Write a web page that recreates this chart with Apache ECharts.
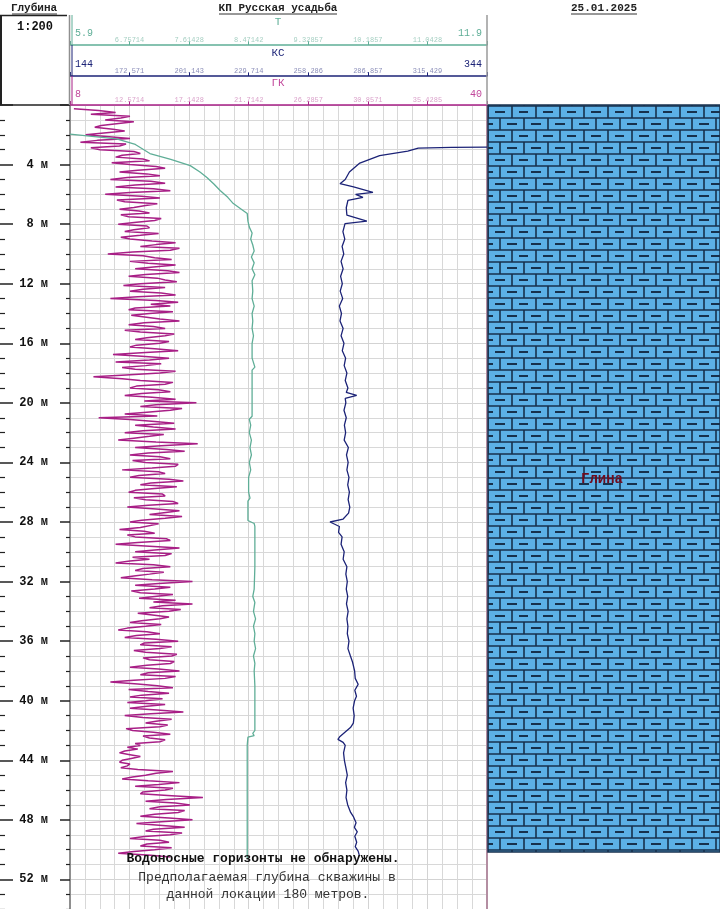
<!DOCTYPE html>
<html lang="ru">
<head>
    <meta charset="UTF-8">
    <title>КП Русская усадьба</title>
    <script src="https://cdn.jsdelivr.net/npm/echarts@6.0.0/dist/echarts.min.js"></script>
    <style>
        html, body { margin: 0; background: #fff; overflow: hidden; }
        #chart { width: 720px; height: 945px; }
    </style>
</head>
<body>
<div id="chart"></div>
<script>
    // шапка
    var titleWell = 'КП Русская усадьба';
    var titleDate = '25.01.2025';
    var titleDepth = 'Глубина';
    var titleScale = '1:200';

    // шкалы треков (мин, макс) и подписи промежуточных делений
    var tName = 'T', ksName = 'КС', gkName = 'ГК';
    var tScale = [5.9, 11.9];
    var ksScale = [144, 344];
    var gkScale = [8, 40];
    var tTickLabels = ['6.75714', '7.61428', '8.47142', '9.32857', '10.1857', '11.0428'];
    var ksTickLabels = ['172.571', '201.143', '229.714', '258.286', '286.857', '315.429'];
    var gkTickLabels = ['12.5714', '17.1428', '21.7142', '26.2857', '30.8571', '35.4285'];
    var depthRange = [0, 56];

    // T: глубина, значение
    var tDepth = [1.95, 2.28, 2.65, 3.26, 3.65, 4.07, 4.5, 4.87, 5.3, 5.74, 6.2, 6.62, 7.08, 7.28, 7.8, 8.2,
        8.6, 9.0, 9.4, 9.8, 10.2, 10.6, 11.0, 11.4, 11.8, 12.5, 13.0, 13.5, 14.0, 14.5, 15.0, 15.5, 16.0,
        17.0, 17.6, 17.8, 19.0, 20.0, 20.9, 21.1, 21.5, 22.0, 22.5, 23.0, 23.5, 24.0, 24.5, 25.0, 26.0,
        26.4, 26.6, 27.5, 27.9, 28.1, 28.3, 30.0, 31.0, 32.5, 33.0, 33.4, 34.0, 34.5, 35.0, 35.5, 36.0,
        36.5, 37.0, 37.5, 38.0, 39.0, 40.0, 41.0, 42.0, 42.2, 42.35, 42.45, 43.0, 45.0, 47.0, 48.8, 48.9,
        49.0, 50.6];
    var tValues = [5.90, 6.57, 6.84, 7.05, 7.35, 7.63, 7.77, 7.87, 7.97, 8.06, 8.17, 8.25, 8.39, 8.45, 8.46, 8.48,
        8.52, 8.50, 8.53, 8.55, 8.51, 8.55, 8.52, 8.56, 8.52, 8.53, 8.52, 8.55, 8.52, 8.53, 8.52, 8.54, 8.52,
        8.52, 8.56, 8.52, 8.52, 8.52, 8.52, 8.48, 8.50, 8.48, 8.51, 8.49, 8.51, 8.48, 8.50, 8.47, 8.47,
        8.49, 8.46, 8.46, 8.46, 8.55, 8.56, 8.56, 8.56, 8.55, 8.53, 8.56, 8.54, 8.57, 8.54, 8.56, 8.55,
        8.57, 8.54, 8.56, 8.55, 8.56, 8.56, 8.56, 8.56, 8.53, 8.55, 8.46, 8.45, 8.45, 8.45, 8.45, 8.43,
        8.45, 8.45];

    // КС: глубина, значение
    var ksDepth = [2.83, 2.85, 2.9, 3.1, 3.4, 3.9, 4.5, 5.0, 5.28, 5.5, 5.86, 6.0, 6.2, 6.4, 6.9, 7.4, 7.8, 7.96,
        8.5, 9.0, 9.5, 10.0, 10.5, 11.0, 11.5, 12.0, 12.5, 13.0, 13.5, 14.0, 14.5, 15.0, 15.5, 16.0, 16.5,
        17.0, 17.5, 18.0, 18.5, 19.0, 19.3, 19.5, 19.7, 20.0, 20.5, 21.0, 21.5, 22.0, 22.5, 23.0, 23.5,
        24.0, 24.5, 25.0, 25.5, 26.0, 26.5, 27.0, 27.4, 27.8, 28.0, 28.15, 28.3, 28.7, 29.0, 29.5, 30.0,
        30.5, 31.0, 31.5, 32.0, 32.5, 33.0, 33.5, 34.0, 34.5, 35.0, 35.5, 36.0, 36.5, 37.0, 37.4, 38.0,
        38.5, 38.9, 39.3, 39.7, 40.0, 40.5, 41.0, 41.5, 41.8, 42.1, 42.4, 42.6, 42.8, 43.0, 43.5, 44.0,
        44.5, 45.0, 45.5, 46.0, 46.5, 47.0, 47.5, 47.8, 48.2, 48.5, 48.8, 49.1, 49.5, 49.8, 50.1, 50.4];
    var ksValues = [344, 327, 311, 306, 292.5, 283, 278, 276, 273.5, 280, 289.3, 281, 284.5, 277.3, 276.5, 276.8, 286.4, 275.9,
        274.9, 275.8, 274.5, 275.3, 274, 275, 273.8, 274.6, 273.6, 274.8, 273.2, 274.2, 273.5, 275, 274, 275.4, 274.6,
        276.2, 275.5, 276.8, 276, 277.3, 276.5, 281.5, 276, 276.3, 275.4, 276.5, 275.6, 276.2, 275.5, 277.5, 276.6,
        277.4, 276.8, 277.8, 277.2, 278, 277.4, 278.2, 277.6, 275, 268.7, 271, 273.2, 272.8, 274.5, 274, 275.5,
        275, 276.8, 276.3, 277, 276.5, 277.2, 276.6, 277.4, 276.8, 277.3, 277, 277.8, 277.3, 278.5, 279.5, 280.5,
        280.8, 282.2, 280.6, 281.4, 280.5, 279.8, 280.3, 279.9, 278.5, 276, 273.5, 272.5, 275, 276, 275.2, 275.6,
        276.3, 277, 276.2, 276.8, 276.4, 277.2, 278.6, 280, 281.2, 280.4, 281.8, 280.6, 281.5, 280.8, 282.2, 282.8];

    // ГК: шаг записи 0.125 м начиная с 0.25 м (по 2 м в строке)
    var gkTop = 0.25;
    var gkStep = 0.125;
    var gkValues = [
        8.3, 10.2, 11.5, 9.6, 12.6, 11.9, 10.7, 12.9, 12.8, 10.4, 9.9, 11.3, 12.2, 10.6, 9.2, 11.0,
        12.6, 10.1, 8.8, 12.3, 11.8, 9.6, 10.3, 12.9, 13.4, 12.0, 11.5, 13.6, 14.1, 11.2, 12.6, 14.6,
        15.3, 13.2, 11.8, 13.9, 14.9, 12.4, 11.1, 14.2, 15.3, 13.0, 11.5, 14.4, 15.7, 12.6, 10.7, 13.5,
        14.9, 11.6, 12.2, 14.7, 13.8, 12.9, 11.8, 13.3, 14.1, 11.9, 12.5, 15.0, 14.5, 13.1, 11.7, 13.9,
        14.1, 12.9, 12.2, 14.8, 13.4, 11.9, 12.6, 14.3, 16.1, 14.6, 13.4, 16.4, 15.7, 12.8, 10.9, 13.6,
        14.5, 15.8, 12.6, 14.0, 16.1, 14.4, 13.0, 15.5, 16.4, 13.8, 12.5, 14.7, 15.3, 16.2, 13.4, 12.1,
        15.3, 13.6, 12.6, 15.0, 16.1, 13.2, 11.1, 14.6, 16.3, 14.2, 15.7, 13.0, 12.5, 15.9, 14.1, 12.7,
        12.8, 14.9, 16.4, 13.7, 12.5, 14.4, 15.3, 12.2, 13.4, 16.0, 15.3, 13.9, 13.0, 15.6, 14.9, 13.1,
        12.6, 14.5, 16.3, 13.8, 11.3, 13.5, 15.6, 14.1, 11.5, 15.0, 13.8, 12.0, 13.0, 16.1, 14.9, 12.3,
        9.8, 12.0, 13.4, 15.9, 15.3, 13.1, 12.6, 14.8, 15.7, 13.5, 12.2, 14.3, 16.1, 13.7, 17.7, 14.6,
        13.4, 16.6, 15.7, 13.9, 12.2, 14.7, 10.2, 12.6, 14.5, 16.0, 13.0, 14.4, 16.1, 13.6, 12.2, 15.2,
        14.1, 12.9, 11.7, 14.6, 17.8, 15.0, 13.0, 15.4, 16.8, 14.0, 12.6, 14.9, 15.7, 12.8, 13.8, 16.3,
        16.1, 14.3, 12.0, 14.8, 15.3, 13.3, 12.6, 15.6, 16.7, 14.2, 13.4, 16.2, 14.5, 13.0, 12.5, 15.1,
        15.3, 12.9, 13.8, 15.9, 16.3, 14.0, 12.4, 14.6, 16.4, 15.2, 14.1, 16.6, 15.3, 13.5, 12.6, 14.8,
        14.9, 13.4, 11.8, 13.7, 14.5, 12.4, 13.0, 15.4, 15.7, 13.2, 11.5, 14.1, 16.4, 14.5, 13.0, 15.8,
        15.3, 12.8, 14.1, 12.6, 11.5, 14.4, 15.7, 13.6, 13.0, 15.2, 14.1, 12.9, 11.9, 14.3, 17.4, 14.8,
        13.0, 15.7, 14.5, 12.7, 13.4, 15.9, 14.5, 13.3, 16.1, 14.4, 17.4, 15.1, 14.1, 16.5, 15.6, 13.2,
        13.1, 15.6, 14.9, 13.5, 12.6, 15.0, 13.8, 12.4, 11.7, 13.9, 14.9, 13.1, 12.2, 14.6, 16.3, 13.7,
        13.4, 15.8, 14.9, 12.9, 13.8, 16.2, 15.8, 13.6, 14.1, 16.0, 15.7, 13.9, 12.6, 14.8, 16.4, 14.0,
        13.4, 16.1, 15.3, 12.9, 11.1, 13.2, 14.7, 15.9, 12.5, 14.0, 15.6, 13.5, 12.6, 15.1, 13.8, 12.4,
        15.3, 13.9, 12.6, 14.7, 16.7, 14.2, 12.2, 13.6, 15.8, 14.6, 13.8, 15.5, 14.9, 12.3, 12.8, 14.4,
        15.7, 13.6, 14.1, 15.3, 14.9, 13.0, 13.4, 12.4, 13.2, 12.2, 11.8, 12.6, 13.4, 12.7, 12.0, 11.8,
        12.6, 12.4, 11.9, 13.2, 15.9, 14.6, 13.8, 12.8, 12.0, 14.0, 16.4, 14.8, 13.0, 15.9, 15.3, 13.6,
        13.4, 15.8, 18.2, 15.4, 13.8, 16.1, 17.2, 14.9, 14.1, 16.8, 16.3, 14.5, 13.4, 15.6, 17.4, 15.0,
        13.1, 15.1, 16.8, 14.4, 13.8, 16.6, 15.7, 13.7, 12.6, 14.9, 15.6, 13.9, 13.4, 15.8, 14.5, 12.9,
        11.7, 14.2, 15.7
    ];

    // литология
    var lithTop = [0];
    var lithBottom = [50.1];
    var lithName = ['Глина'];

    // примечание
    var noteLines = ['Водоносные горизонты не обнаружены.',
        'Предполагаемая глубина скважины в',
        'данной локации 180 метров.'];

    var mono = '"Liberation Mono", "DejaVu Sans Mono", monospace';
    var cT = '#5fae97', cKS = '#1c2377', cGK = '#a81f86';

    function tickFmt(labels, scale) {
        var step = (scale[1] - scale[0]) / 7;
        return function (v) {
            var i = Math.round((v - scale[0]) / step);
            return labels[i - 1] || '';
        };
    }

    function trackAxis(scale, labels, color, labelColor, offset) {
        return {
            type: 'value', gridIndex: 0, position: 'top', offset: offset,
            min: scale[0], max: scale[1], interval: (scale[1] - scale[0]) / 7,
            axisLine: { show: true, onZero: false, lineStyle: { color: color, width: 1.5 } },
            axisTick: { show: true, length: 4, lineStyle: { color: color } },
            axisLabel: { show: true, margin: 1, fontSize: 7, color: labelColor, fontFamily: mono,
                formatter: tickFmt(labels, scale) },
            splitLine: { show: false }
        };
    }

    // плитка "кирпичи" для глины
    function makeBrickTile() {
        var c = document.createElement('canvas');
        c.width = 48; c.height = 24;
        var g = c.getContext('2d');
        g.fillStyle = '#5cb0e6';
        g.fillRect(0, 0, 48, 24);
        g.strokeStyle = '#17314d';
        g.lineWidth = 1.6;
        g.beginPath();
        [10, 22].forEach(function (y) { g.moveTo(0, y); g.lineTo(48, y); });
        [8, 32].forEach(function (x) { g.moveTo(x, 10); g.lineTo(x, 22); });
        [20, 44].forEach(function (x) { g.moveTo(x, 22); g.lineTo(x, 24); g.moveTo(x, 0); g.lineTo(x, 10); });
        g.stroke();
        g.lineWidth = 1.8;
        g.beginPath();
        [20, 44].forEach(function (x) { g.moveTo(x - 5, 16); g.lineTo(x + 5, 16); });
        [8, 32].forEach(function (x) { g.moveTo(x - 5, 4); g.lineTo(x + 5, 4); });
        g.stroke();
        return c;
    }
    var brickTile = makeBrickTile();

    var tData = tDepth.map(function (d, i) { return [tValues[i], d]; });
    var ksData = ksDepth.map(function (d, i) { return [ksValues[i], d]; });
    var gkData = gkValues.map(function (v, i) { return [v, +(gkTop + i * gkStep).toFixed(3)]; });

    var tAxis = trackAxis(tScale, tTickLabels, cT, '#a5cfc2', 60);
    tAxis.splitLine = { show: true, lineStyle: { color: '#d3d3d3', width: 1 } };
    tAxis.minorTick = { show: false, splitNumber: 4 };
    tAxis.minorSplitLine = { show: true, lineStyle: { color: '#d8d8d8', width: 1 } };

    function txt(x, y, text, font, color, align) {
        return { type: 'text', x: x, y: y, z: 100,
            style: { text: text, font: font, fill: color, align: align || 'center', textAlign: align || 'center',
                verticalAlign: 'middle', textVerticalAlign: 'middle' } };
    }
    function ln(x1, y1, x2, y2, color, w) {
        return { type: 'line', z: 100, shape: { x1: x1, y1: y1, x2: x2, y2: y2 },
            style: { stroke: color, lineWidth: w || 1 } };
    }

    var myChart = echarts.init(document.getElementById('chart'));
    var option = {
        animation: false,
        backgroundColor: '#fff',
        grid: [
            { left: 70, top: 105, width: 417, height: 835 },
            { left: 488, top: 105, width: 232, height: 835 }
        ],
        xAxis: [
            tAxis,
            trackAxis(ksScale, ksTickLabels, cKS, '#8a8db8', 29),
            trackAxis(gkScale, gkTickLabels, cGK, '#dba3cb', 0),
            { type: 'value', gridIndex: 1, min: 0, max: 1, show: false }
        ],
        yAxis: [
            {
                type: 'value', gridIndex: 0, inverse: true, position: 'left',
                min: depthRange[0], max: depthRange[1], interval: 4,
                axisLine: { show: true, onZero: false, lineStyle: { color: '#8f8f8f', width: 2 } },
                axisTick: { show: true, length: 10, lineStyle: { color: '#222', width: 1.5 } },
                minorTick: { show: true, splitNumber: 4, length: 4, lineStyle: { color: '#222', width: 1.2 } },
                axisLabel: { margin: 22, color: '#111', fontSize: 12, fontWeight: 'bold', fontFamily: mono,
                    showMinLabel: false, formatter: function (v) { return v + ' м'; } },
                splitLine: { show: true, lineStyle: { color: '#d3d3d3', width: 1 } },
                minorSplitLine: { show: true, lineStyle: { color: '#d8d8d8', width: 1 } }
            },
            {
                type: 'value', gridIndex: 0, inverse: true, position: 'left', offset: 70,
                min: depthRange[0], max: depthRange[1], interval: 4,
                axisLine: { show: false, onZero: false },
                axisTick: { show: true, inside: true, length: 13, lineStyle: { color: '#222', width: 1.5 } },
                minorTick: { show: true, splitNumber: 4, length: 5, lineStyle: { color: '#222', width: 1.2 } },
                axisLabel: { show: false },
                splitLine: { show: false }
            },
            {
                type: 'value', gridIndex: 0, inverse: true, position: 'right',
                min: depthRange[0], max: depthRange[1],
                axisLine: { show: true, onZero: false, lineStyle: { color: '#b48ea2', width: 2 } },
                axisTick: { show: false }, axisLabel: { show: false }, splitLine: { show: false }
            },
            {
                type: 'value', gridIndex: 1, inverse: true, min: depthRange[0], max: depthRange[1], show: false
            }
        ],
        series: [
            {
                name: gkName, type: 'line', xAxisIndex: 2, yAxisIndex: 0, data: gkData,
                showSymbol: false, z: 3,
                lineStyle: { color: cGK, width: 1.5 }
            },
            {
                name: tName, type: 'line', xAxisIndex: 0, yAxisIndex: 0, data: tData,
                showSymbol: false, z: 4,
                lineStyle: { color: cT, width: 1.3 }
            },
            {
                name: ksName, type: 'line', xAxisIndex: 1, yAxisIndex: 0, data: ksData,
                showSymbol: false, z: 4,
                lineStyle: { color: cKS, width: 1.3 }
            },
            {
                type: 'custom', xAxisIndex: 3, yAxisIndex: 3,
                data: lithTop.map(function (t, i) { return [t, lithBottom[i]]; }),
                renderItem: function (params, api) {
                    var p0 = api.coord([0, api.value(0)]);
                    var p1 = api.coord([1, api.value(1)]);
                    return {
                        type: 'group',
                        children: [
                            { type: 'rect',
                              shape: { x: p0[0], y: p0[1], width: p1[0] - p0[0], height: p1[1] - p0[1] },
                              style: { fill: { image: brickTile, repeat: 'repeat' }, stroke: '#17314d', lineWidth: 1.5 } },
                            { type: 'text',
                              style: { text: lithName[params.dataIndex], x: (p0[0] + p1[0]) / 2 - 2,
                                  y: (p0[1] + p1[1]) / 2 + 1,
                                  align: 'center', verticalAlign: 'middle',
                                  textAlign: 'center', textVerticalAlign: 'middle',
                                  fill: '#6e0b1e', font: 'bold 14px ' + mono } }
                        ]
                    };
                }
            }
        ],
        graphic: [
            // заголовки
            txt(34, 8, titleDepth, 'bold 11px ' + mono, '#222'),
            ln(12, 14, 57, 14, '#333', 1),
            txt(278, 8, titleWell, 'bold 11px ' + mono, '#222'),
            ln(219, 14, 337, 14, '#333', 1),
            txt(604, 8, titleDate, 'bold 11px ' + mono, '#222'),
            ln(571, 14, 637, 14, '#333', 1),
            txt(35, 27, titleScale, 'bold 12px ' + mono, '#111'),
            // рамка колонки глубин
            ln(0, 15.5, 67, 15.5, '#222', 1.5),
            ln(1, 15, 1, 105, '#222', 2),
            ln(0, 105, 69, 105, '#222', 1.5),
            ln(69.5, 15, 69.5, 105, '#8f8f8f', 1.5),
            ln(72, 15, 72, 45, cT, 1),
            ln(72, 45, 72, 76, cKS, 1),
            ln(72, 76, 72, 105, cGK, 1),
            ln(487, 15, 487, 105, '#9a9a9a', 1.5),
            // шкалы треков
            txt(278, 22, tName, '11px ' + mono, cT),
            txt(75, 33, String(tScale[0]), '10px ' + mono, cT, 'left'),
            txt(482, 33, String(tScale[1]), '10px ' + mono, cT, 'right'),
            txt(278, 53, ksName, '11px ' + mono, cKS),
            txt(75, 64, String(ksScale[0]), '10px ' + mono, cKS, 'left'),
            txt(482, 64, String(ksScale[1]), '10px ' + mono, cKS, 'right'),
            txt(278, 83, gkName, '11px ' + mono, '#c1479b'),
            txt(75, 94, String(gkScale[0]), '10px ' + mono, '#c1479b', 'left'),
            txt(482, 94, String(gkScale[1]), '10px ' + mono, '#c1479b', 'right'),
            // примечание
            txt(263, 859, noteLines[0], 'bold 13px ' + mono, '#111'),
            txt(267, 878, noteLines[1], '13px ' + mono, '#333'),
            txt(268, 895, noteLines[2], '13px ' + mono, '#333')
        ]
    };
    myChart.setOption(option);
</script>
</body>
</html>
